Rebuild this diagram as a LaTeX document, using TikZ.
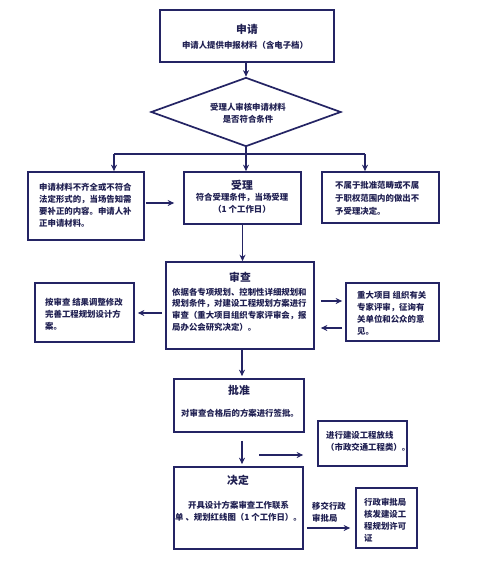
\documentclass[tikz,border=0pt]{standalone}
\usepackage{fontspec}
\setmainfont{Noto Sans CJK SC}
\usetikzlibrary{shapes.geometric,arrows.meta}
\definecolor{lc}{RGB}{36,36,100}
\definecolor{tc}{RGB}{32,32,82}
\tikzset{
 box/.style={draw=lc, line width=1.7pt, rectangle, inner sep=0pt},
 body/.style={text=tc, font=\fontsize{8.4}{12}\selectfont\bfseries, inner sep=0pt, align=left, anchor=west},
 cbody/.style={text=tc, font=\fontsize{8.4}{12}\selectfont\bfseries, inner sep=0pt, align=center},
 ttl/.style={text=tc, font=\fontsize{10.8}{13}\selectfont\bfseries, inner sep=0pt},
 ln/.style={draw=lc, line width=1.4pt},
 arr/.style={ln, -{Stealth[length=6.5pt,width=6pt]}},
}
\begin{document}
\begin{tikzpicture}[x=1pt,y=-1pt]
\useasboundingbox[fill=white] (0,0) rectangle (500,573);
% boxes
\node[box, minimum width=174pt, minimum height=52pt] (apply) at (247,36) {};
\node[ttl] (apply-t) at (247,29) {申请};
\node[cbody] (apply-b) at (245,45) {申请人提供申报材料（含电子档）};

\node[box, diamond, shape aspect=2.75, minimum width=190pt, minimum height=69pt] (check) at (246,112) {};
\node[cbody] (check-t) at (248,113) {受理人审核申请材料\\是否符合条件};

\node[box, minimum width=116pt, minimum height=68pt] (buqi) at (86,206) {};
\node[body] (buqi-t) at (39,205.5) {申请材料不齐全或不符合\\法定形式的，当场告知需\\要补正的内容。申请人补\\正申请材料。};

\node[box, minimum width=117pt, minimum height=52pt] (accept) at (242.5,198) {};
\node[ttl] (accept-t) at (242,185) {受理};
\node[cbody] (accept-b) at (242,203) {符合受理条件，当场受理\\（1 个工作日）};

\node[box, minimum width=117pt, minimum height=51pt] (reject) at (380.5,197.5) {};
\node[body, font=\fontsize{8.4}{13}\selectfont\bfseries] (reject-t) at (335,198.5) {不属于批准范畴或不属\\于职权范围内的做出不\\予受理决定。};

\node[box, minimum width=148pt, minimum height=87pt] (review) at (240,305.5) {};
\node[ttl] (review-t) at (240,277) {审查};
\node[body, font=\fontsize{8.4}{11.7}\selectfont\bfseries] (review-b) at (172,309.5) {依据各专项规划、控制性详细规划和\\规划条件，对建设工程规划方案进行\\审查（重大项目组织专家评审会，报\\局办公会研究决定）。};

\node[box, minimum width=99pt, minimum height=59pt] (adjust) at (84.5,312.5) {};
\node[body] (adjust-t) at (45,314) {按审查 结果调整修改\\完善工程规划设计方\\案。};

\node[box, minimum width=93pt, minimum height=58pt] (expert) at (392.5,312) {};
\node[body] (expert-t) at (357,313) {重大项目 组织有关\\专家评审，征询有\\关单位和公众的意\\见。};

\node[box, minimum width=130pt, minimum height=53pt] (approve) at (239,405.5) {};
\node[ttl] (approve-t) at (239,390) {批准};
\node[cbody] (approve-b) at (240,413) {对审查合格后的方案进行签批。};

\node[box, minimum width=89pt, minimum height=45pt] (setout) at (362.5,443.5) {};
\node[body] (setout-t) at (326,441) {进行建设工程放线\\（市政交通工程类）。};

\node[box, minimum width=129pt, minimum height=82pt] (decide) at (238.5,508) {};
\node[ttl] (decide-t) at (238,480) {决定};
\node[cbody] (decide-b) at (238.5,511) {开具设计方案审查工作联系\\单 、规划红线图（1 个工作日）。};

\node[box, minimum width=61pt, minimum height=60pt] (permit) at (386.5,518) {};
\node[body] (permit-t) at (364,520) {行政审批局\\核发建设工\\程规划许可\\证};

\node[body] (handover) at (312,512.5) {移交行政\\审批局};

% connectors
\coordinate (jm) at (246,154);
\coordinate (jl) at (114,154);
\coordinate (jr) at (365,154);
\draw[arr] (apply.south -| check.north) -- (check.north);
\draw[ln] (check.south) -- (jm);
\draw[ln] (jl) -- (jr);
\draw[arr] (jl) -- (jl |- buqi.north);
\draw[arr] (jm) -- (jm |- accept.north);
\draw[arr] (jr) -- (jr |- reject.north);
\draw[arr, shorten <=1pt, shorten >=9pt] (buqi.east |- 0,203) -- (accept.west |- 0,203);
\draw[arr] (accept.south) -- (accept.south |- review.north);
\draw[arr, shorten <=3pt, shorten >=3pt] (review.west |- 0,313) -- (adjust.east |- 0,313);
\draw[arr, shorten <=6pt, shorten >=3pt] (review.east |- 0,301) -- (expert.west |- 0,301);
\draw[arr, shorten <=3pt, shorten >=6pt] (expert.west |- 0,328) -- (review.east |- 0,328);
\draw[arr, shorten >=2pt] (review.south -| 242,0) -- (approve.north -| 242,0);
\draw[arr, shorten <=8pt, shorten >=2pt] (approve.south -| 242,0) -- (decide.north -| 242,0);
\coordinate (fs) at (259,455);
\draw[arr, shorten >=14pt] (fs) -- (fs -| setout.west);
\draw[arr, shorten <=3pt, shorten >=5pt] (decide.east |- 0,528) -- (permit.west |- 0,528);
\end{tikzpicture}
\end{document}
